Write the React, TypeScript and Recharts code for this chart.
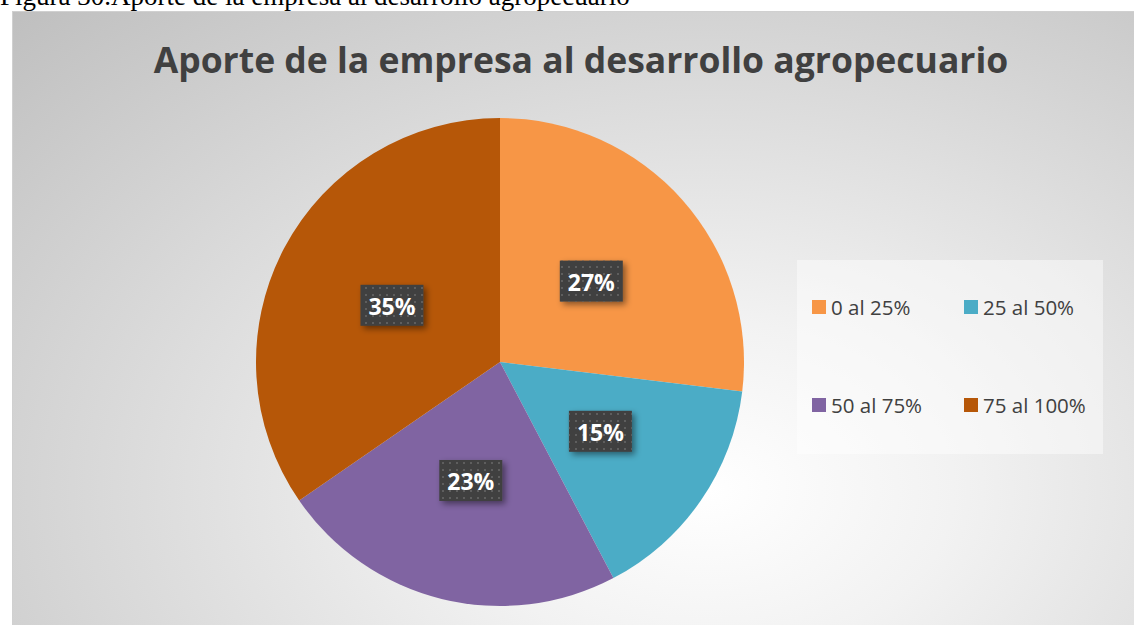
import React from 'react';
import { PieChart, Pie, Cell, Legend } from 'recharts';

// Datos (frecuencias; los porcentajes salen de ellas)
const categories = ['0 al 25%', '25 al 50%', '50 al 75%', '75 al 100%'];
const values = [7, 4, 6, 9];
const colors = ['#F79646', '#4BACC6', '#8064A2', '#B65708'];

const chartData = categories.map((name, i) => ({ name, value: values[i] }));

const FONT = '"Open Sans", "Noto Sans", sans-serif';

// etiqueta oscura con trama de puntos, al 50% del radio
function renderLabel(props: any) {
  const { cx, cy, midAngle, outerRadius, percent } = props;
  const RAD = Math.PI / 180;
  const r = outerRadius * 0.5;
  const x = cx + r * Math.cos(-midAngle * RAD);
  const y = cy + r * Math.sin(-midAngle * RAD);
  const w = 63;
  const h = 41;
  return (
    <g>
      <rect
        x={x - w / 2} y={y - h / 2} width={w} height={h}
        fill="#404040" filter="url(#lblShadow)"
      />
      <rect x={x - w / 2} y={y - h / 2} width={w} height={h} fill="url(#dots)" />
      <text
        x={x} y={y + 1} textAnchor="middle" dominantBaseline="central"
        fill="#ffffff" fontFamily={FONT} fontWeight={700} fontSize={23}
      >
        {`${Math.round(percent * 100)}%`}
      </text>
    </g>
  );
}

function LegendBox() {
  return (
    <div style={{
      width: 306, height: 194, background: 'rgba(255,255,255,0.45)',
      position: 'relative', fontFamily: FONT, fontSize: 20.5, color: '#404040',
    }}>
      {categories.map((c, i) => {
        const col = i % 2;
        const row = Math.floor(i / 2);
        return (
          <div key={c} style={{
            position: 'absolute', left: 15 + col * 152, top: 33 + row * 98,
            display: 'flex', alignItems: 'center', whiteSpace: 'nowrap',
          }}>
            <span style={{ width: 14, height: 14, background: colors[i], display: 'inline-block', marginRight: 5 }} />
            <span>{c}</span>
          </div>
        );
      })}
    </div>
  );
}

export default function App() {
  return (
    <div style={{
      position: 'fixed', left: 0, top: 0, width: 1134, height: 625,
      background: '#ffffff', overflow: 'hidden',
    }}>
      <div style={{
        position: 'absolute', left: 0, top: -19, whiteSpace: 'nowrap',
        fontFamily: '"Liberation Serif", serif', fontSize: 27, color: '#000',
      }}>
        Figura 30.Aporte de la empresa al desarrollo agropecuario
      </div>
      <div style={{
        position: 'absolute', left: 12, top: 11, width: 1122, height: 614,
        boxSizing: 'border-box', borderLeft: '1px solid #d0d0d0', borderTop: '1px solid #d0d0d0',
        background: 'radial-gradient(ellipse farthest-corner at 62% 78%, #ffffff 0%, #f2f2f2 25%, #bfbfbf 100%)',
      }}>
        <PieChart width={1122} height={614} margin={{ top: 0, right: 0, bottom: 0, left: 0 }}>
          <defs>
            <pattern id="dots" width="7" height="7" patternUnits="userSpaceOnUse">
              <rect x="2" y="2" width="2" height="2" fill="#5e5e5e" />
            </pattern>
            <filter id="lblShadow" x="-30%" y="-30%" width="160%" height="160%">
              <feDropShadow dx="3" dy="3" stdDeviation="3" floodColor="#000" floodOpacity="0.45" />
            </filter>
          </defs>
          <text
            x={568} y={47} textAnchor="middle" dominantBaseline="central"
            fill="#404040" fontFamily={FONT} fontWeight={700} fontSize={35.5}
          >
            Aporte de la empresa al desarrollo agropecuario
          </text>
          <Pie
            data={chartData}
            dataKey="value"
            nameKey="name"
            cx={487}
            cy={350}
            outerRadius={244}
            startAngle={90}
            endAngle={-270}
            stroke="none"
            labelLine={false}
            label={renderLabel}
            isAnimationActive={false}
          >
            {chartData.map((d, i) => <Cell key={d.name} fill={colors[i]} />)}
          </Pie>
          <Legend
            content={() => <LegendBox />}
            wrapperStyle={{ position: 'absolute', left: 784, top: 248, width: 306, height: 194 }}
          />
        </PieChart>
      </div>
    </div>
  );
}
